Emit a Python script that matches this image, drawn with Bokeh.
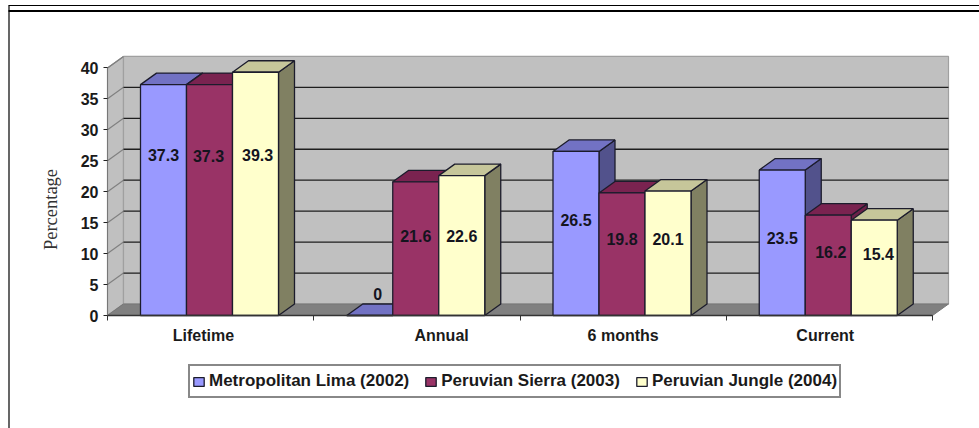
from bokeh.plotting import figure
from bokeh.models import (LinearAxis, FixedTicker, Range1d, Legend, LegendItem, Label)
from bokeh.core.properties import value
from bokeh.embed import file_html
from bokeh.resources import INLINE
from math import pi

categories = ["Lifetime", "Annual", "6 months", "Current"]
series_names = ["Metropolitan Lima (2002)", "Peruvian Sierra (2003)", "Peruvian Jungle (2004)"]
lima = [37.3, 0, 26.5, 23.5]
sierra = [37.3, 21.6, 19.8, 16.2]
jungle = [39.3, 22.6, 20.1, 15.4]
y_ticks = [0, 5, 10, 15, 20, 25, 30, 35, 40]

# where the source placed each value label, in axis units
label_lima = [25.85, 3.55, 15.5, 12.6]
label_sierra = [25.7, 12.8, 12.3, 10.3]
label_jungle = [25.85, 12.8, 12.4, 9.9]
# sideways shift of the source's value labels, in category units
shift_lima = [0, 0, 0, 0]
shift_sierra = [-0.005, 0, 0, 0.012]
shift_jungle = [0.01, 0, 0, 0.02]
# where the source placed each category label, in category units
cat_label_pos = [0.465, 1.62, 2.5, 3.48]

W, H = 979, 428
X0, CAT_W = 107.0, 206.25    # px of category 0, px per category
Y0, UNIT = 315.0, 6.19       # px of value 0, px per value unit
to_x = lambda px: (px - X0) / CAT_W
to_y = lambda py: (Y0 - py) / UNIT

DX, DY = 16 / CAT_W, 11.5 / UNIT     # depth of the 3D projection
INSET, BAR = 33 / CAT_W, 46 / CAT_W
YMAX = 40
NCAT = len(categories)

p = figure(width=W, height=H, output_backend="svg", toolbar_location=None,
           x_range=Range1d(to_x(0), to_x(W)), y_range=Range1d(to_y(H), to_y(0)),
           x_axis_type=None, y_axis_type=None, min_border=0,
           background_fill_color="white", border_fill_color="white", outline_line_color=None)
p.styles = {"position": "absolute", "left": "0px", "top": "0px"}
p.grid.visible = False

# walls and floor
p.patch([0, 0, DX, DX], [0, YMAX, YMAX + DY, DY], fill_color="#C0C0C0", line_color="#8C8C8C", line_width=1.2)
p.patch([DX, DX, NCAT + DX, NCAT + DX], [DY, YMAX + DY, YMAX + DY, DY], fill_color="#C0C0C0",
        line_color="#A0A0A0", line_width=1.2)
p.patch([0, DX, NCAT + DX, NCAT], [0, DY, DY, 0], fill_color="#808080", line_color="#777777", line_width=1)

# gridlines
grid = [t for t in y_ticks if t > 0]
p.multi_line([[0, DX] for _ in grid], [[t, t + DY] for t in grid], line_color="#808080", line_width=1.2)
p.multi_line([[DX, NCAT + DX] for _ in grid[:-1]], [[t + DY, t + DY] for t in grid[:-1]],
             line_color="#1E1E1E", line_width=1.3)

# bars
front_cols = ["#9999FF", "#993366", "#FFFFCC"]
top_cols = ["#7272C4", "#7A2350", "#C6C69A"]
side_cols = ["#52528C", "#6B2048", "#808062"]
EDGE = "#1C1C2C"
fronts = []
all_series = [lima, sierra, jungle]
for c in range(NCAT):
    for s, vals in enumerate(all_series):
        v = vals[c]
        l = c + INSET + s * BAR
        r = l + BAR
        p.patch([r, r + DX, r + DX, r], [0, DY, v + DY, v], fill_color=side_cols[s], line_color=EDGE, line_width=1.3)
        p.patch([l, l + DX, r + DX, r], [v, v + DY, v + DY, v], fill_color=top_cols[s], line_color=EDGE, line_width=1.3)
        f = p.patch([l, l, r, r], [0, v, v, 0], fill_color=front_cols[s], line_color=EDGE, line_width=1.3)
        if c == 0:
            fronts.append(f)

# front floor edge
p.line([0, NCAT], [0, 0], line_color="#333333", line_width=1.5)

# value labels
for s, (vals, lab, shift) in enumerate(zip(all_series, [label_lima, label_sierra, label_jungle],
                                           [shift_lima, shift_sierra, shift_jungle])):
    xs = [c + INSET + (s + 0.5) * BAR + shift[c] + (DX / 2 if vals[c] == 0 else 0) for c in range(NCAT)]
    txt = ["0" if v == 0 else f"{v:.1f}" for v in vals]
    p.text(xs, lab, text=txt, text_font=value("Liberation Sans"), text_font_style="bold",
           text_font_size="16px", text_color="#14141E", text_align="center", text_baseline="middle")

# axes
yax = LinearAxis(fixed_location=0, ticker=FixedTicker(ticks=y_ticks), bounds=(0, YMAX))
yax.axis_line_color = "#777777"
yax.major_tick_line_color = "#222222"
yax.major_tick_in = 0
yax.major_tick_out = 4
yax.minor_tick_line_color = None
yax.major_label_standoff = 5
yax.major_label_text_font = "Liberation Sans"
yax.major_label_text_font_style = "bold"
yax.major_label_text_font_size = "16px"
yax.major_label_text_color = "#1A1A1A"
p.add_layout(yax, "left")

xcat = LinearAxis(fixed_location=0,
                  ticker=FixedTicker(ticks=cat_label_pos, minor_ticks=list(range(NCAT + 1))),
                  bounds=(0, NCAT),
                  major_label_overrides={k: v for k, v in zip(cat_label_pos, categories)})
xcat.axis_line_color = "#333333"
xcat.major_tick_line_color = None
xcat.major_tick_in = 0
xcat.major_tick_out = 0
xcat.minor_tick_line_color = "#333333"
xcat.minor_tick_in = 0
xcat.minor_tick_out = 5
xcat.major_label_standoff = 6
xcat.major_label_text_font = "Liberation Sans"
xcat.major_label_text_font_style = "bold"
xcat.major_label_text_font_size = "16px"
xcat.major_label_text_color = "#1A1A1A"
p.add_layout(xcat, "below")

# y title
p.add_layout(Label(x=to_x(50), y=to_y(209), text="Percentage", angle=pi / 2, text_align="center",
                   text_baseline="middle", text_font="Liberation Serif", text_font_size="18.5px",
                   text_color="#333333"))

# page frame of the source document
p.line([to_x(8), to_x(W)], [to_y(5), to_y(5)], line_color="black", line_width=1.2)
p.line([to_x(8), to_x(W)], [to_y(10.5), to_y(10.5)], line_color="black", line_width=2)
p.line([to_x(8.5), to_x(8.5)], [to_y(5), to_y(H)], line_color="black", line_width=1.2)

# legend
legend = Legend(items=[LegendItem(label=n, renderers=[f]) for n, f in zip(series_names, fronts)],
                orientation="horizontal", location=(188, H - 398), margin=0, padding=2, spacing=15,
                glyph_width=13, glyph_height=11, label_standoff=4, label_height=26,
                label_text_font="Liberation Sans", label_text_font_style="bold",
                label_text_font_size="17px", label_text_color="#1A1A1A",
                border_line_color="#111111", border_line_width=2, background_fill_color="white",
                background_fill_alpha=1.0)
p.add_layout(legend, "center")

open("out.html", "w").write(file_html(p, INLINE))
